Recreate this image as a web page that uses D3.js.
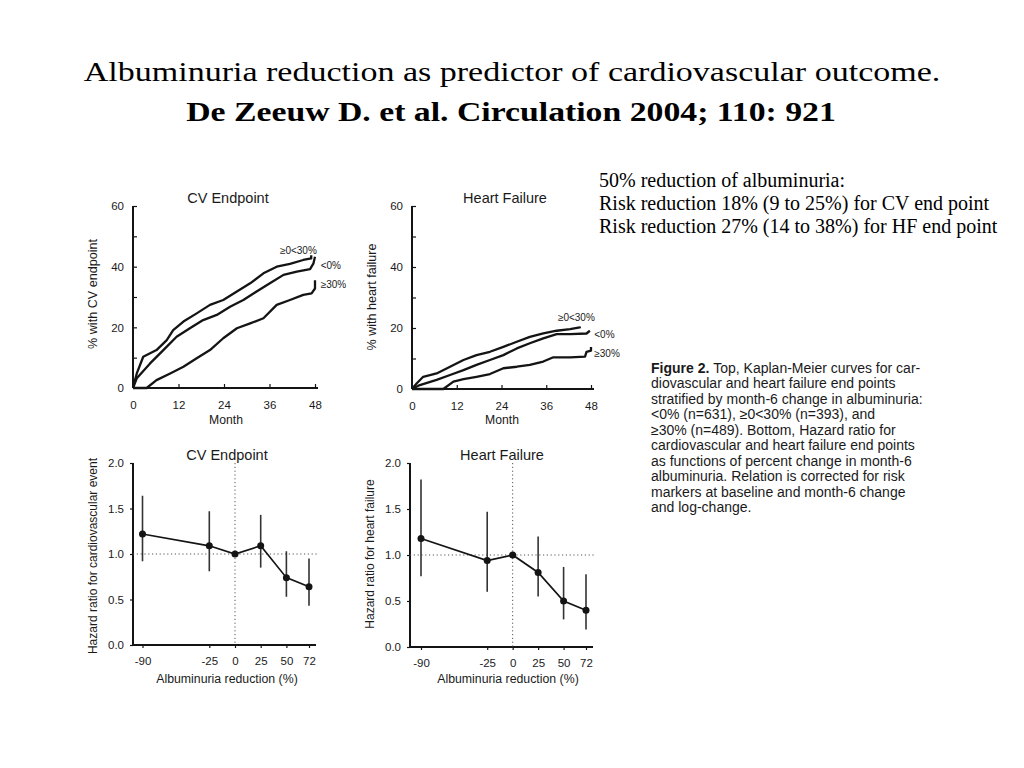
<!DOCTYPE html>
<html>
<head>
<meta charset="utf-8">
<script src="https://cdn.jsdelivr.net/npm/d3@7"></script>
<style>
  body { margin: 0; background: #fff; }
  svg { display: block; }
  .fig text { font-family: "Liberation Sans", Arial, sans-serif; fill: #1a1a1a; }
  .serif { font-family: "Liberation Serif", "Times New Roman", serif; fill: #000; }
</style>
</head>
<body>
<div id="chart"></div>
<script>
// Kaplan-Meier curves, [month, % with event]
var cvLow = [[0,0],[0.5,2.5],[1,4.8],[2.7,10.3],[6.2,12.5],[8.9,15.8],[10.6,19.1],[13.3,21.9],[16.8,24.6],[20.3,27.4],[23.8,29],[27.4,31.8],[30.9,34.5],[34.4,37.8],[37.9,40],[41.4,40.9],[44.9,42.2],[47,42.7],[47,43.8]];
var cvNeg = [[0,0],[1,3.2],[4.5,8.1],[8,12.5],[11.5,16.9],[15,19.7],[18.5,22.4],[22.1,24.1],[25.6,26.8],[29.1,29],[32.6,31.8],[36.1,34.5],[39.7,37.3],[43.2,38.4],[46.7,39.2],[47.6,41.1],[48,43.3]];
var cvHigh = [[0,0],[3.6,0],[6.2,2.6],[9.8,4.8],[13.3,7],[16.8,9.8],[20.3,12.5],[23.8,16.4],[27.4,19.7],[30.9,21.3],[34.4,23],[37.9,27.4],[41.4,29],[44.9,30.7],[47.1,31.2],[48,32.8],[48,35.5]];
var hfLow = [[0,0],[1.3,1.9],[3,4],[6.6,5.1],[10.2,7.3],[13.8,9.5],[17.3,11.1],[20.9,12.2],[24.5,13.8],[28.1,15.5],[31.6,17.1],[35.2,18.2],[38.8,19.1],[42.4,19.6],[45,20.2],[45,20.5]];
var hfNeg = [[0,0],[2.1,1.3],[6.6,3],[10.2,4.6],[13.8,6.2],[17.3,7.9],[20.9,9.5],[24.5,11.1],[28.1,13.3],[31.6,15],[35.2,16.6],[38.8,18],[42.4,18],[46.8,18.2],[47.7,19.1]];
var hfHigh = [[0,0],[8.4,0],[11.1,2.4],[13.8,3.2],[17.3,4],[20.9,4.9],[24.5,6.8],[28.1,7.3],[31.6,7.9],[35.2,9],[37.9,10.4],[42.4,10.4],[46.4,10.6],[46.8,12.2],[48,12.6],[48,13.8]];
var kmGroups = ["\u22650<30%", "<0%", "\u226530%"];
var monthTicks = [0, 12, 24, 36, 48];
var pctTicks = [0, 20, 40, 60];
var pctMinor = [10, 20, 30, 40, 50, 60];

// Hazard ratio vs albuminuria reduction
var reduction = [-90, -25, 0, 25, 50, 72];
var cvHR = [1.22, 1.09, 1.0, 1.09, 0.74, 0.64];
var cvLo = [0.92, 0.81, null, 0.85, 0.53, 0.43];
var cvHi = [1.64, 1.47, null, 1.43, 1.03, 0.95];
var hfHR = [1.18, 0.94, 1.0, 0.81, 0.50, 0.40];
var hfLo = [0.77, 0.60, null, 0.55, 0.30, 0.19];
var hfHi = [1.82, 1.47, null, 1.20, 0.87, 0.79];
var hrTicks = [0.0, 0.5, 1.0, 1.5, 2.0];

var titleLines = ["Albuminuria reduction as predictor of cardiovascular outcome.",
                  "De Zeeuw D. et al. Circulation 2004; 110: 921"];
var noteLines = ["50% reduction of albuminuria:",
                 "Risk reduction 18% (9 to 25%) for CV end point",
                 "Risk reduction 27% (14 to 38%) for HF end point"];
var captionLines = ["Top, Kaplan-Meier curves for car-",
                    "diovascular and heart failure end points",
                    "stratified by month-6 change in albuminuria:",
                    "<0% (n=631), \u22650<30% (n=393), and",
                    "\u226530% (n=489). Bottom, Hazard ratio for",
                    "cardiovascular and heart failure end points",
                    "as functions of percent change in month-6",
                    "albuminuria. Relation is corrected for risk",
                    "markers at baseline and month-6 change",
                    "and log-change."];

var ink = "#141414";

var svg = d3.select("#chart").append("svg")
    .attr("width", 1024).attr("height", 768);

// titulo (el original esta estirado en horizontal)
svg.append("text").attr("class", "serif")
    .attr("transform", "translate(512,81) scale(1.26,1)")
    .attr("text-anchor", "middle")
    .style("font-size", "27px")
    .text(titleLines[0]);
svg.append("text").attr("class", "serif")
    .attr("transform", "translate(511,121) scale(1.25,1)")
    .attr("text-anchor", "middle")
    .style("font-size", "27px").style("font-weight", "bold")
    .text(titleLines[1]);

// notas a la derecha
svg.selectAll(".note").data(noteLines).enter().append("text")
    .attr("class", "serif note")
    .attr("x", 599).attr("y", function(d, i) { return 187 + i * 23; })
    .style("font-size", "20px")
    .text(function(d) { return d; });

var fig = svg.append("g").attr("class", "fig");

// leyenda de la figura
var cap = fig.append("g");
cap.selectAll("text").data(captionLines).enter().append("text")
    .attr("x", 651).attr("y", function(d, i) { return 373 + i * 15.45; })
    .style("font-size", "14px")
    .each(function(d, i) {
        var t = d3.select(this);
        if (i === 0) {
            t.append("tspan").style("font-weight", "bold").text("Figure 2. ");
            t.append("tspan").text(d);
        } else {
            t.text(d);
        }
    });

function styleAxis(g) {
    g.selectAll("path.domain").remove();
    g.selectAll(".tick line").attr("stroke", ink).attr("stroke-width", 1.2);
    g.selectAll(".tick text").style("font-size", "11.5px").attr("fill", ink)
        .style("font-family", '"Liberation Sans", Arial, sans-serif');
}

function kmPanel(opt) {
    var x = d3.scaleLinear().domain([0, 48]).range([opt.left, opt.right]);
    var y = d3.scaleLinear().domain([0, 60]).range([opt.bottom, opt.top]);
    var g = fig.append("g");

    g.append("g").attr("transform", "translate(0," + opt.bottom + ")")
        .call(d3.axisBottom(x).tickValues(monthTicks).tickSize(-4).tickPadding(13))
        .call(styleAxis);
    g.append("g").attr("transform", "translate(" + opt.left + ",0)")
        .call(d3.axisLeft(y).tickValues(pctTicks).tickSize(0).tickPadding(9))
        .call(styleAxis);
    g.append("g").attr("transform", "translate(" + opt.left + ",0)")
        .call(d3.axisLeft(y).tickValues(pctMinor).tickSize(-4).tickFormat(""))
        .call(styleAxis);
    // ejes
    g.append("line").attr("x1", opt.left).attr("x2", opt.left)
        .attr("y1", y(60)).attr("y2", opt.bottom)
        .attr("stroke", ink).attr("stroke-width", 2);
    g.append("line").attr("x1", opt.left).attr("x2", x(48) + 3)
        .attr("y1", opt.bottom).attr("y2", opt.bottom)
        .attr("stroke", ink).attr("stroke-width", 2.2);

    var line = d3.line()
        .x(function(d) { return x(d[0]); })
        .y(function(d) { return y(d[1]); });

    g.selectAll(".km").data(opt.series).enter().append("path")
        .attr("d", line)
        .attr("fill", "none").attr("stroke", ink).attr("stroke-width", 2.3)
        .attr("stroke-linejoin", "round");

    g.selectAll(".lab").data(opt.series).enter().append("text")
        .attr("x", function(d, i) { return x(d[d.length - 1][0]) + opt.labDx[i]; })
        .attr("y", function(d, i) { return y(d[d.length - 1][1]) + opt.labDy[i]; })
        .attr("text-anchor", function(d, i) { return i === 0 ? "end" : "start"; })
        .style("font-size", "10px")
        .text(function(d, i) { return kmGroups[i]; });

    g.append("text").attr("x", opt.titleX).attr("y", 203)
        .attr("text-anchor", "middle").style("font-size", "14.5px").text(opt.title);
    g.append("text").attr("x", opt.monthX).attr("y", 424)
        .attr("text-anchor", "middle").style("font-size", "12.2px").text("Month");
    g.append("text")
        .attr("transform", "translate(" + (opt.left - 36) + "," + opt.yLabY + ") rotate(-90)")
        .attr("text-anchor", "middle").style("font-size", "12.6px").text(opt.ylab);
}

function hrPanel(opt) {
    var x = d3.scaleLinear().domain([-90, 72]).range([opt.x0, opt.x1]);
    var y = d3.scaleLinear().domain([0, 2]).range([opt.bottom, opt.top]);
    var g = fig.append("g");

    g.append("g").attr("transform", "translate(0," + opt.bottom + ")")
        .call(d3.axisBottom(x).tickValues(reduction).tickFormat(function(d) { return String(d); })
            .tickSize(3).tickPadding(9))
        .call(styleAxis);
    g.append("g").attr("transform", "translate(" + opt.left + ",0)")
        .call(d3.axisLeft(y).tickValues(hrTicks).tickFormat(d3.format(".1f")).tickSize(3).tickPadding(6))
        .call(styleAxis);
    g.append("line").attr("x1", opt.left).attr("x2", opt.left)
        .attr("y1", y(2)).attr("y2", opt.bottom)
        .attr("stroke", ink).attr("stroke-width", 2);
    g.append("line").attr("x1", opt.left).attr("x2", opt.right)
        .attr("y1", opt.bottom).attr("y2", opt.bottom)
        .attr("stroke", ink).attr("stroke-width", 2.2);

    // referencias punteadas
    g.append("line").attr("x1", x(0)).attr("x2", x(0))
        .attr("y1", y(2)).attr("y2", opt.bottom)
        .attr("stroke", "#555").attr("stroke-width", 1).attr("stroke-dasharray", "1.2,2.6");
    g.append("line").attr("x1", opt.left).attr("x2", opt.right + 2)
        .attr("y1", y(1)).attr("y2", y(1))
        .attr("stroke", "#555").attr("stroke-width", 1).attr("stroke-dasharray", "1.2,2.6");

    var pts = reduction.map(function(r, i) {
        return { r: r, hr: opt.hr[i], lo: opt.lo[i], hi: opt.hi[i] };
    });

    g.selectAll(".err").data(pts.filter(function(d) { return d.lo !== null; }))
        .enter().append("line")
        .attr("x1", function(d) { return x(d.r); }).attr("x2", function(d) { return x(d.r); })
        .attr("y1", function(d) { return y(d.hi); }).attr("y2", function(d) { return y(d.lo); })
        .attr("stroke", "#333").attr("stroke-width", 1.6);

    g.append("path").datum(pts)
        .attr("d", d3.line().x(function(d) { return x(d.r); }).y(function(d) { return y(d.hr); }))
        .attr("fill", "none").attr("stroke", ink).attr("stroke-width", 1.7);

    g.selectAll(".dot").data(pts).enter().append("circle")
        .attr("cx", function(d) { return x(d.r); })
        .attr("cy", function(d) { return y(d.hr); })
        .attr("r", 3.5).attr("fill", ink);

    g.append("text").attr("x", opt.titleX).attr("y", 460)
        .attr("text-anchor", "middle").style("font-size", "14.5px").text(opt.title);
    g.append("text").attr("x", opt.labX).attr("y", 683)
        .attr("text-anchor", "middle").style("font-size", "12.3px").text("Albuminuria reduction (%)");
    g.append("text")
        .attr("transform", "translate(" + (opt.left - 36) + "," + opt.yLabY + ") rotate(-90)")
        .attr("text-anchor", "middle").style("font-size", "12px").text(opt.ylab);
}

kmPanel({ left: 133, right: 315, top: 206, bottom: 388, title: "CV Endpoint", titleX: 228, monthX: 226,
          ylab: "% with CV endpoint", yLabY: 294, series: [cvLow, cvNeg, cvHigh],
          labDx: [5.6, 5.7, 5.7], labDy: [-0.7, 12, 8] });
kmPanel({ left: 412, right: 591, top: 206, bottom: 389, title: "Heart Failure", titleX: 505, monthX: 502,
          ylab: "% with heart failure", yLabY: 297, series: [hfLow, hfNeg, hfHigh],
          labDx: [15, 4.4, 3.3], labDy: [-5.5, 7, 10] });

hrPanel({ left: 133, right: 316, x0: 142.5, x1: 309, top: 463, bottom: 645,
          hr: cvHR, lo: cvLo, hi: cvHi, title: "CV Endpoint", titleX: 227, labX: 227, yLabY: 556,
          ylab: "Hazard ratio for cardiovascular event" });
hrPanel({ left: 410, right: 593, x0: 421, x1: 586, top: 463, bottom: 647,
          hr: hfHR, lo: hfLo, hi: hfHi, title: "Heart Failure", titleX: 502, labX: 508, yLabY: 554,
          ylab: "Hazard ratio for heart failure" });
</script>
</body>
</html>
